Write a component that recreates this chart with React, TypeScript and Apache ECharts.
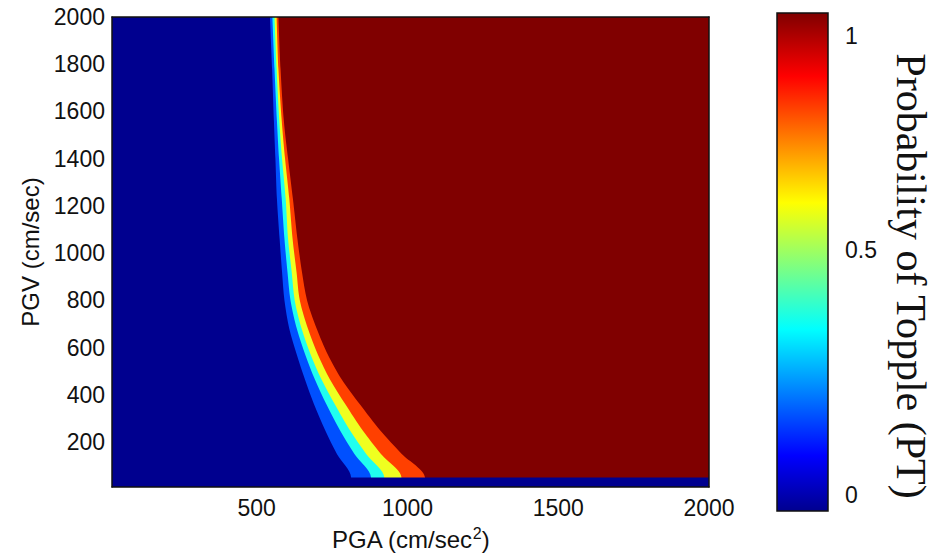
import React, { useEffect, useRef } from "react";
import * as echarts from "echarts";

// Axis limits of the PGA / PGV plane
const PGA_MIN = 20;
const PGA_MAX = 2000;
const PGV_MIN = 10;
const PGV_MAX = 2000;

// PGV values (cm/sec) at which each probability contour is sampled
const PGV_LEVELS = [2000, 1780, 1560, 1400, 1230, 1060, 920, 800, 680, 570, 465, 360, 250, 150, 50];

// PGA (cm/sec^2) of each probability-of-topple contour at the PGV values above
const PGA_PT_02 = [544, 551, 557, 562, 567, 576, 584, 592, 608, 633, 660, 690, 727, 766, 813];
const PGA_PT_04 = [552, 559, 567, 574, 583, 592, 602, 612, 633, 661, 693, 731, 776, 824, 879];
const PGA_PT_06 = [559, 566, 575, 584, 596, 604, 616, 626, 649, 679, 715, 759, 809, 863, 923];
const PGA_PT_08 = [566, 572, 583, 594, 608, 619, 632, 643, 670, 703, 743, 794, 851, 912, 980];
const PGA_PT_10 = [572, 579, 590, 604, 620, 635, 650, 667, 699, 736, 782, 842, 909, 981, 1058];

// Below this PGV the probability of topple is zero for every PGA
const PGV_NO_TOPPLE = 50;

// Contour levels (lowest first) and the jet colour of the region at or above each level
const PT_LEVELS = [0.2, 0.4, 0.6, 0.8, 1.0];
const PT_CONTOURS = [PGA_PT_02, PGA_PT_04, PGA_PT_06, PGA_PT_08, PGA_PT_10];
const BAND_ABOVE = ["#0050FF", "#20FFEF", "#EFFF20", "#FF4000", "#800000"];
const BAND_ZERO = "#00008F";

// Axis tick labels
const PGA_TICKS = [500, 1000, 1500, 2000];
const PGV_TICKS = [200, 400, 600, 800, 1000, 1200, 1400, 1600, 1800, 2000];
const PT_TICKS = [0, 0.5, 1];
const PT_BAR_MIN = -0.035;
const PT_BAR_MAX = 1.05;

const SANS = '"Liberation Sans", Arial, Helvetica, sans-serif';
const SERIF = '"Liberation Serif", "Times New Roman", serif';
const INK = "#111";

// Contour line, dropped to the axis floor and run out to the right edge; filled upward
function contourRegion(pga: number[]) {
  const pts: number[][] = pga.map((x, i) => [x, PGV_LEVELS[i]]);
  pts.push([pga[pga.length - 1], PGV_MIN]);
  pts.push([PGA_MAX, PGV_MIN]);
  return pts;
}

const plain = (v: number) => String(v);

export default function App() {
  const ref = useRef<HTMLDivElement>(null);

  useEffect(() => {
    const chart = echarts.init(ref.current!, null, { renderer: "svg" });

    const bandSeries = PT_CONTOURS.map((pga, i) => ({
      name: `PT >= ${PT_LEVELS[i]}`,
      type: "line",
      xAxisIndex: 0,
      yAxisIndex: 0,
      data: contourRegion(pga),
      symbol: "none",
      smooth: 0.3,
      silent: true,
      clip: true,
      lineStyle: { width: 0, opacity: 0 },
      areaStyle: { color: BAND_ABOVE[i], opacity: 1, origin: "end" },
      z: 2 + i,
    }));

    const jet = new echarts.graphic.LinearGradient(0, 1, 0, 0, [
      { offset: 0, color: "#00008F" },
      { offset: 0.111, color: "#0000FF" },
      { offset: 0.365, color: "#00FFFF" },
      { offset: 0.619, color: "#FFFF00" },
      { offset: 0.873, color: "#FF0000" },
      { offset: 1, color: "#800000" },
    ]);

    const option: any = {
      animation: false,
      backgroundColor: "#fff",
      grid: [
        {
          left: 112,
          top: 17,
          width: 597,
          height: 470,
          show: true,
          backgroundColor: BAND_ZERO,
          borderWidth: 0,
        },
        { left: 777, top: 13, width: 51, height: 498 },
      ],
      xAxis: [
        {
          type: "value",
          gridIndex: 0,
          min: PGA_MIN,
          max: PGA_MAX,
          position: "bottom",
          z: 20,
          axisLine: { show: true, lineStyle: { color: INK, width: 1.5 } },
          axisTick: { show: false },
          splitLine: { show: false },
          axisLabel: {
            customValues: PGA_TICKS,
            formatter: plain,
            fontSize: 23,
            fontFamily: SANS,
            color: INK,
            margin: 9,
          },
          name: "PGA (cm/sec{sup|2})",
          nameLocation: "middle",
          nameGap: 38,
          nameTextStyle: {
            fontSize: 24,
            fontFamily: SANS,
            color: INK,
            rich: {
              sup: { fontSize: 16, fontFamily: SANS, color: INK, padding: [0, 0, 12, 0] },
            },
          },
        },
        {
          type: "value",
          gridIndex: 0,
          min: PGA_MIN,
          max: PGA_MAX,
          position: "top",
          z: 20,
          axisLine: { show: true, lineStyle: { color: INK, width: 1.5 } },
          axisTick: { show: false },
          axisLabel: { show: false },
          splitLine: { show: false },
        },
        {
          type: "value",
          gridIndex: 1,
          min: 0,
          max: 1,
          show: false,
        },
      ],
      yAxis: [
        {
          type: "value",
          gridIndex: 0,
          min: PGV_MIN,
          max: PGV_MAX,
          position: "left",
          z: 20,
          axisLine: { show: true, lineStyle: { color: INK, width: 1.5 } },
          axisTick: { show: false },
          splitLine: { show: false },
          axisLabel: {
            customValues: PGV_TICKS,
            formatter: plain,
            fontSize: 23,
            fontFamily: SANS,
            color: INK,
            margin: 7,
          },
          name: "PGV (cm/sec)",
          nameLocation: "middle",
          nameGap: 70,
          nameTextStyle: { fontSize: 24, fontFamily: SANS, color: INK },
        },
        {
          type: "value",
          gridIndex: 0,
          min: PGV_MIN,
          max: PGV_MAX,
          position: "right",
          z: 20,
          axisLine: { show: true, lineStyle: { color: INK, width: 1.5 } },
          axisTick: { show: false },
          axisLabel: { show: false },
          splitLine: { show: false },
        },
        {
          type: "value",
          gridIndex: 1,
          min: PT_BAR_MIN,
          max: PT_BAR_MAX,
          position: "right",
          axisLine: { show: false },
          axisTick: { show: false },
          splitLine: { show: false },
          axisLabel: {
            customValues: PT_TICKS,
            fontSize: 23,
            fontFamily: SANS,
            color: INK,
            margin: 17,
            formatter: (v: number) => (v === 0.5 ? "{mid|0.5}" : String(v)),
            rich: {
              mid: { fontSize: 23, fontFamily: SANS, color: INK, padding: [0, 0, 30, 0] },
            },
          },
        },
      ],
      series: [
        ...bandSeries,
        {
          name: "PT = 0",
          type: "line",
          xAxisIndex: 0,
          yAxisIndex: 0,
          data: [
            [PGA_MIN, PGV_NO_TOPPLE],
            [PGA_MAX, PGV_NO_TOPPLE],
          ],
          symbol: "none",
          silent: true,
          lineStyle: { width: 0, opacity: 0 },
          areaStyle: { color: BAND_ZERO, opacity: 1, origin: "start" },
          z: 10,
        },
        {
          name: "colorbar",
          type: "custom",
          xAxisIndex: 2,
          yAxisIndex: 2,
          silent: true,
          data: [[0, PT_BAR_MIN, 1, PT_BAR_MAX]],
          renderItem: (_params: any, api: any) => {
            const p0 = api.coord([api.value(0), api.value(1)]);
            const p1 = api.coord([api.value(2), api.value(3)]);
            return {
              type: "rect",
              shape: {
                x: p0[0],
                y: p1[1],
                width: p1[0] - p0[0],
                height: p0[1] - p1[1],
              },
              style: { fill: jet, stroke: INK, lineWidth: 1.5 },
            };
          },
        },
      ],
      graphic: [
        {
          type: "text",
          x: 911,
          y: 276,
          rotation: -Math.PI / 2,
          style: {
            text: "Probability of Topple (PT)",
            font: `42px ${SERIF}`,
            fill: INK,
            align: "center",
            verticalAlign: "middle",
          },
        },
      ],
    };

    chart.setOption(option);
    return () => chart.dispose();
  }, []);

  return (
    <div
      ref={ref}
      style={{ position: "fixed", left: 0, top: 0, width: 944, height: 558, background: "#fff" }}
    />
  );
}
